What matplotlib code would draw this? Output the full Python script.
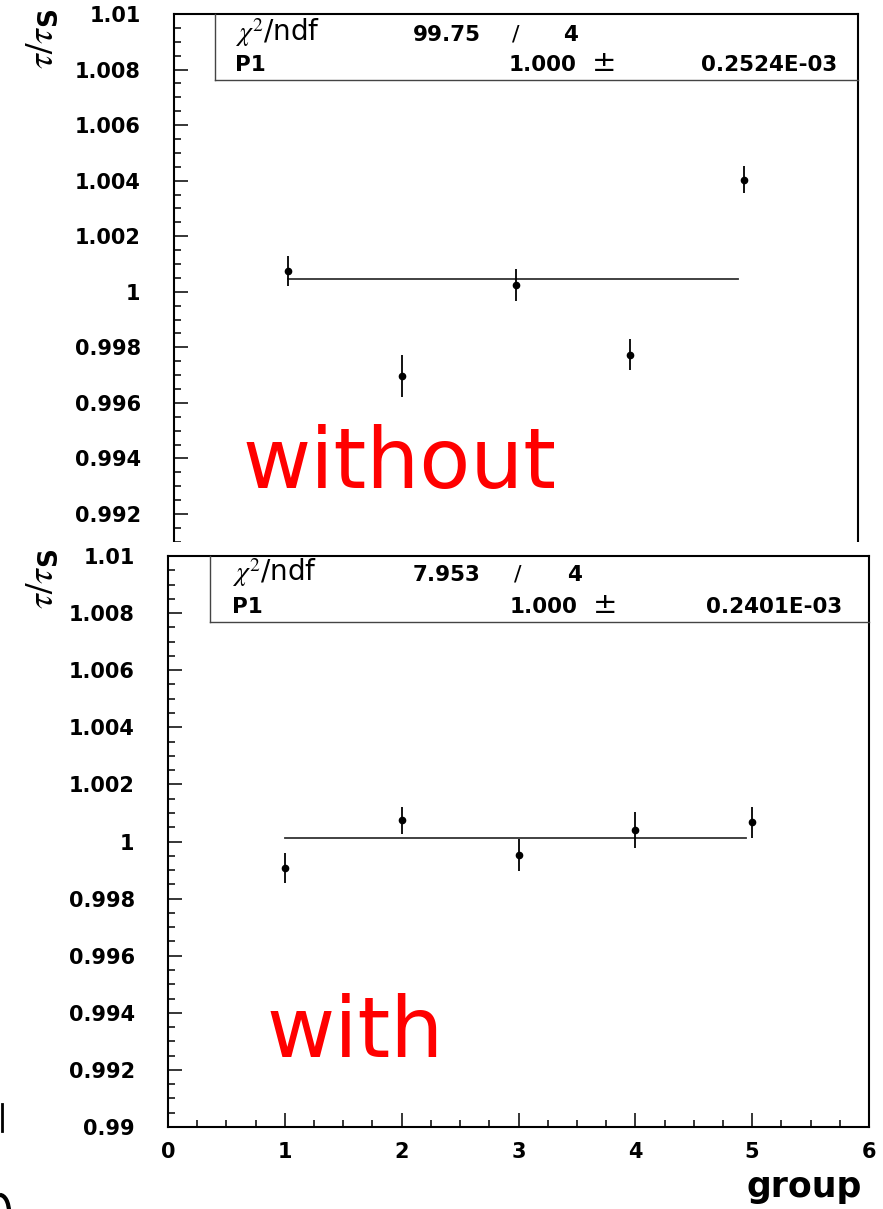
import matplotlib
matplotlib.use("Agg")
import matplotlib.pyplot as plt
from matplotlib.lines import Line2D
from matplotlib.patches import Rectangle, Arc
from matplotlib.ticker import FixedLocator, MultipleLocator
import numpy as np

plt.rcParams["font.family"] = ["DejaVu Sans"]
plt.rcParams["mathtext.fontset"] = "custom"
plt.rcParams["mathtext.rm"] = "STIXGeneral"
plt.rcParams["mathtext.it"] = "STIXGeneral:italic"
plt.rcParams["mathtext.bf"] = "DejaVu Sans:bold"
plt.rcParams["mathtext.sf"] = "DejaVu Sans:bold"

# ---- data -------------------------------------------------------------
groups = [1, 2, 3, 4, 5]

tau_without = [1.00075, 0.99696, 1.00025, 0.99773, 1.00404]
err_without = [0.00054, 0.00075, 0.00057, 0.00056, 0.00050]

tau_with = [0.99907, 1.00074, 0.99953, 1.00040, 1.00067]
err_with = [0.00054, 0.00048, 0.00056, 0.00064, 0.00053]

fit_range = (1.0, 4.95)

y_ticks = [0.99, 0.992, 0.994, 0.996, 0.998, 1.0, 1.002, 1.004, 1.006, 1.008, 1.01]
y_tick_labels = ["0.99", "0.992", "0.994", "0.996", "0.998", "1",
                 "1.002", "1.004", "1.006", "1.008", "1.01"]
x_ticks = [0, 1, 2, 3, 4, 5, 6]
x_tick_labels = ["0", "1", "2", "3", "4", "5", "6"]

stats_without = ["99.75", "4", "1.000", "0.2524E-03"]
stats_with = ["7.953", "4", "1.000", "0.2401E-03"]

# ---- figure helpers (pixel layout) ------------------------------------
W, H = 883, 1209
fig = plt.figure(figsize=(W / 100, H / 100), dpi=100)
fig.patch.set_facecolor("white")


def fx(x):
    return x / W


def fy(y):
    return 1 - y / H


def rect(x0, x1, ytop, ybot):
    return [fx(x0), fy(ybot), (x1 - x0) / W, (ybot - ytop) / H]


TICKFONT = dict(family="DejaVu Sans", weight="bold", size=15)
YLABEL = r"$\tau/\tau_{\mathsf{S}}$"


def weighted_mean(vals, errs):
    v = np.asarray(vals)
    w = 1.0 / np.asarray(errs) ** 2
    return float(np.sum(v * w) / np.sum(w))


def draw_panel(ax, vals, errs):
    ax.errorbar(groups, vals, yerr=errs, fmt="o", color="black", ms=4.5,
                elinewidth=1.3, capsize=0, zorder=3)
    p1 = weighted_mean(vals, errs)
    ax.plot(fit_range, [p1, p1], color="#333333", lw=1.3, zorder=2)
    ax.set_xlim(0, 6)
    ax.set_ylim(0.99, 1.01)
    ax.yaxis.set_major_locator(FixedLocator(y_ticks))
    ax.set_yticklabels(y_tick_labels, fontdict=TICKFONT)
    ax.xaxis.set_major_locator(FixedLocator(x_ticks))
    ax.set_xticklabels(x_tick_labels, fontdict=TICKFONT)
    ax.yaxis.set_minor_locator(MultipleLocator(0.0005))
    ax.xaxis.set_minor_locator(MultipleLocator(0.25))
    ax.tick_params(which="major", direction="in", length=10, width=1.1,
                   top=False, right=False, colors="black")
    ax.tick_params(which="minor", direction="in", length=5, width=1.1,
                   top=False, right=False)
    ax.tick_params(axis="y", which="major", pad=24)
    ax.tick_params(axis="x", which="major", pad=11)
    for s in ax.spines.values():
        s.set_linewidth(1.5)
        s.set_color("black")


def stat_box(left, top, right, bottom, rows_y, pos, stats, zorder):
    lw = 1.0
    col = "#444444"
    fig.add_artist(Line2D([fx(left), fx(left)], [fy(top), fy(bottom)],
                          color=col, lw=lw, zorder=zorder))
    fig.add_artist(Line2D([fx(left), fx(right)], [fy(bottom), fy(bottom)],
                          color=col, lw=lw, zorder=zorder))
    chi2, ndf, p1, dp1 = stats
    r1, r2 = rows_y
    bold = dict(family="DejaVu Sans", weight="bold", size=15.5, zorder=zorder,
                va="baseline")
    fig.text(fx(pos["lab"]), fy(r1), r"$\chi^2$/ndf", family="DejaVu Sans",
             size=20, va="baseline", ha="left", zorder=zorder)
    fig.text(fx(pos["chi2"]), fy(r1), chi2, ha="right", **bold)
    fig.text(fx(pos["slash"]), fy(r1), "/", ha="center",
             family="DejaVu Sans", size=16, va="baseline", zorder=zorder)
    fig.text(fx(pos["ndf"]), fy(r1), ndf, ha="center", **bold)
    fig.text(fx(pos["lab"]), fy(r2), "P1", ha="left", **bold)
    fig.text(fx(pos["p1"]), fy(r2), p1, ha="left", **bold)
    fig.text(fx(pos["pm"]), fy(r2), "\u00b1", ha="center",
             family="DejaVu Sans", size=21, va="baseline", zorder=zorder)
    fig.text(fx(pos["dp1"]), fy(r2), dp1, ha="right", **bold)


# ---- upper panel: without correction ----------------------------------
ax_top = fig.add_axes(rect(174, 858, 14, 569.6))
ax_top.set_zorder(0)
draw_panel(ax_top, tau_without, err_without)
ax_top.tick_params(axis="x", labelbottom=False)
ax_top.get_yticklabels()[0].set_visible(False)
stat_box(215, 14, 858, 80, (41, 71),
         dict(lab=235, chi2=481, slash=516, ndf=571, p1=509, pm=604, dp1=837),
         stats_without, zorder=1)
fig.text(fx(243), fy(488), "without", color="#ff0000", size=60,
         family="DejaVu Sans", va="baseline", ha="left", zorder=1)
fig.text(fx(43), fy(39), YLABEL, rotation=90, size=27,
         ha="center", va="center", zorder=1)

# lower sheet laid over the upper one
fig.add_artist(Rectangle((0, 0), 1, fy(542), transform=fig.transFigure,
                         facecolor="white", edgecolor="none", zorder=2))

# ---- lower panel: with correction -------------------------------------
ax_bot = fig.add_axes(rect(168, 869, 556, 1127))
ax_bot.set_zorder(3)
draw_panel(ax_bot, tau_with, err_with)
stat_box(210, 556, 869, 622, (581, 613),
         dict(lab=232, chi2=481, slash=518, ndf=575, p1=510, pm=605, dp1=842),
         stats_with, zorder=4)
fig.text(fx(266), fy(1057), "with", color="#ff0000", size=60,
         family="DejaVu Sans", va="baseline", ha="left", zorder=4)
fig.text(fx(43), fy(579), YLABEL, rotation=90, size=27,
         ha="center", va="center", zorder=4)
fig.text(fx(862), fy(1197), "group", family="DejaVu Sans", weight="bold",
         size=25, ha="right", va="baseline", zorder=4)

# fragments at the left margin of the lower sheet
fig.add_artist(Line2D([fx(1.5), fx(1.5)], [fy(1104), fy(1131)], color="black",
                      lw=2.0, zorder=4))
fig.add_artist(Arc((fx(0), fy(1212)), 18 / W, 34 / H, theta1=0, theta2=90,
                   transform=fig.transFigure, color="black", lw=3.0, zorder=4))

fig.savefig("out.png", dpi=100, facecolor="white")
